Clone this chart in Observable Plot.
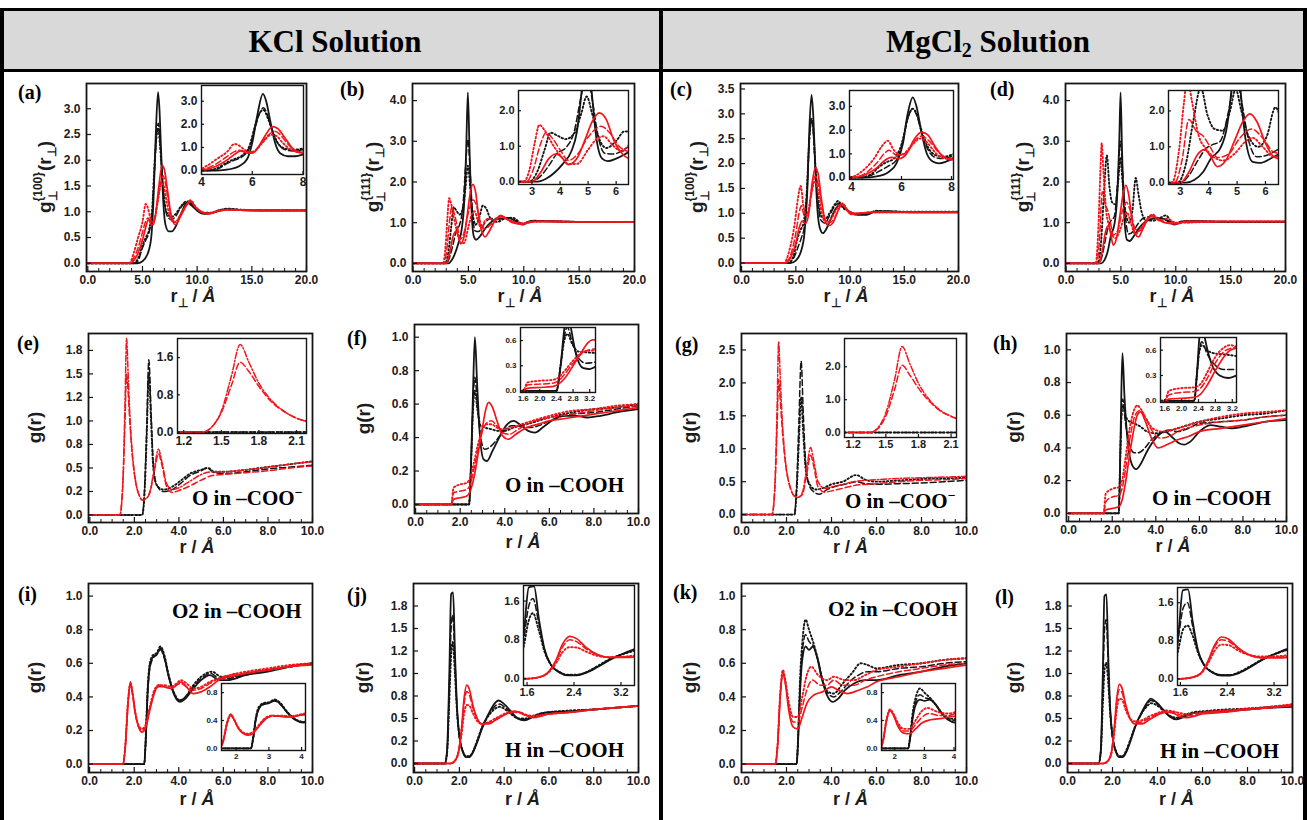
<!DOCTYPE html>
<html><head><meta charset="utf-8">
<script src="https://cdn.jsdelivr.net/npm/d3@7"></script>
<script src="https://cdn.jsdelivr.net/npm/@observablehq/plot@0.6"></script>
<style>
html,body{margin:0;padding:0;background:#fff}
#fig{position:relative;width:1307px;height:820px;overflow:hidden;background:#fff}
</style></head><body><div id="fig"></div>
<script>
// ---------------- DATA ----------------
const headers = ["KCl Solution", "MgCl", "2", " Solution"];
const letters = ["(a)","(b)","(c)","(d)","(e)","(f)","(g)","(h)","(i)","(j)","(k)","(l)"];
const notes = {e:"O in –COO", f:"O in –COOH", g:"O in –COO", h:"O in –COOH", i:"O2 in –COOH", j:"H in –COOH", k:"O2 in –COOH", l:"H in –COOH"};

const x20Ticks = [0,5,10,15,20];
const x20Labels = ["0.0","5.0","10.0","15.0","20.0"];
const x20Minor = [1,2,3,4,6,7,8,9,11,12,13,14,16,17,18,19];
const x10Ticks = [0,2,4,6,8,10];
const x10Labels = ["0.0","2.0","4.0","6.0","8.0","10.0"];
const x10Minor = [0.5,1,1.5,2.5,3,3.5,4.5,5,5.5,6.5,7,7.5,8.5,9,9.5];
const yTicksA = [0,0.5,1,1.5,2,2.5,3];
const yLabelsA = ["0.0","0.5","1.0","1.5","2.0","2.5","3.0"];
const yTicksB = [0,1,2,3,4];
const yLabelsB = ["0.0","1.0","2.0","3.0","4.0"];
const yTicksC = [0,0.5,1,1.5,2,2.5,3,3.5];
const yLabelsC = ["0.0","0.5","1.0","1.5","2.0","2.5","3.0","3.5"];
const yTicksE = [0,0.25,0.5,0.75,1,1.25,1.5,1.75];
const yLabelsE = ["0.0","0.2","0.5","0.8","1.0","1.2","1.5","1.8"];
const yTicksF = [0,0.2,0.4,0.6,0.8,1.0];
const yLabelsF = ["0.0","0.2","0.4","0.6","0.8","1.0"];
const yTicksG = [0,0.5,1,1.5,2,2.5];
const yLabelsG = ["0.0","0.5","1.0","1.5","2.0","2.5"];
// inset ticks
const insX48 = [4,6,8], insX48L = ["4","6","8"];
const insY3 = [0,1,2,3], insY3L = ["0.0","1.0","2.0","3.0"];
const insX36 = [3,4,5,6], insX36L = ["3","4","5","6"];
const insY2 = [0,1,2], insY2L = ["0.0","1.0","2.0"];
const insXe = [1.2,1.5,1.8,2.1], insXeL = ["1.2","1.5","1.8","2.1"];
const insYe = [0,0.8,1.6], insYeL = ["0.0","0.8","1.6"];
const insXf = [1.6,2.0,2.4,2.8,3.2], insXfL = ["1.6","2.0","2.4","2.8","3.2"];
const insYf = [0,0.3,0.6], insYfL = ["0.0","0.3","0.6"];
const insXi = [2,3,4], insXiL = ["2","3","4"];
const insYi = [0,0.4,0.8], insYiL = ["0.0","0.4","0.8"];
const insXj = [1.6,2.4,3.2], insXjL = ["1.6","2.4","3.2"];

// (a) KCl {100}
const a_k1 = [[0,0],[4.5,0],[5.0,0.04],[5.5,0.2],[5.8,0.5],[6.0,1.2],[6.2,2.4],[6.42,3.32],[6.55,3.0],[6.7,2.2],[6.9,1.2],[7.1,0.75],[7.4,0.62],[7.7,0.62],[8.0,0.7],[8.5,0.95],[9.1,1.18],[9.5,1.12],[10.0,1.02],[10.6,0.96],[11.2,0.97],[12.0,1.02],[12.8,1.05],[14,1.03],[16,1.02],[20,1.02]];
const a_k2 = [[0,0],[4.3,0],[4.6,0.05],[5.0,0.3],[5.3,0.45],[5.6,0.6],[5.9,1.0],[6.1,1.8],[6.3,2.5],[6.45,2.72],[6.6,2.4],[6.8,1.7],[7.0,1.2],[7.3,0.9],[7.6,0.85],[8.0,0.9],[8.5,1.08],[9.0,1.18],[9.5,1.15],[10.0,1.05],[10.6,0.98],[11.2,0.97],[12.0,1.02],[12.8,1.05],[14,1.03],[16,1.03],[20,1.03]];
const a_k3 = [[0,0],[4.2,0],[4.6,0.1],[5.0,0.35],[5.3,0.5],[5.6,0.65],[5.9,1.1],[6.1,1.9],[6.3,2.5],[6.45,2.62],[6.6,2.3],[6.8,1.7],[7.0,1.2],[7.3,0.95],[7.6,0.9],[8.0,0.95],[8.5,1.1],[9.0,1.2],[9.5,1.17],[10.0,1.06],[10.6,0.98],[11.2,0.98],[12.0,1.03],[12.8,1.06],[14,1.04],[16,1.03],[20,1.03]];
const a_r1 = [[0,0],[3.9,0],[4.2,0.05],[4.6,0.2],[5.0,0.45],[5.3,0.7],[5.55,0.85],[5.8,0.75],[6.0,0.75],[6.2,0.95],[6.5,1.5],[6.8,1.9],[7.0,1.82],[7.3,1.4],[7.6,0.95],[8.0,0.75],[8.5,0.92],[9.0,1.12],[9.35,1.22],[9.8,1.1],[10.3,1.0],[11,0.96],[11.8,1.0],[12.8,1.04],[14,1.03],[16,1.02],[20,1.02]];
const a_r2 = [[0,0],[3.8,0],[4.2,0.1],[4.6,0.3],[5.0,0.6],[5.3,0.82],[5.5,0.88],[5.8,0.8],[6.0,0.8],[6.3,1.1],[6.6,1.5],[6.9,1.7],[7.1,1.55],[7.4,1.15],[7.7,0.88],[8.0,0.8],[8.5,0.95],[9.0,1.12],[9.4,1.2],[9.9,1.08],[10.4,1.0],[11,0.97],[12,1.02],[13,1.04],[16,1.03],[20,1.03]];
const a_r3 = [[0,0],[3.8,0],[4.2,0.2],[4.6,0.5],[5.0,0.8],[5.3,1.15],[5.45,1.1],[5.7,0.9],[5.9,0.8],[6.1,0.85],[6.4,1.2],[6.75,1.55],[6.95,1.5],[7.2,1.2],[7.5,0.92],[7.8,0.8],[8.0,0.8],[8.5,0.95],[9.0,1.12],[9.4,1.22],[9.9,1.08],[10.4,1.0],[11,0.97],[12,1.02],[13,1.04],[16,1.03],[20,1.03]];
// (b) KCl {111}
const b_k1 = [[0,0],[3.2,0],[3.5,0.08],[3.8,0.25],[4.1,0.5],[4.4,0.85],[4.6,1.4],[4.8,2.8],[4.95,4.2],[5.1,2.8],[5.3,1.2],[5.5,0.65],[5.7,0.58],[6.0,0.65],[6.5,0.85],[7.0,1.0],[7.5,1.08],[8.0,1.1],[8.6,1.12],[9.2,1.05],[9.9,0.95],[10.4,1.02],[11,1.05],[12,1.03],[15,1.02],[20,1.02]];
const b_k2 = [[0,0],[3.0,0],[3.3,0.15],[3.6,0.45],[3.9,0.8],[4.2,0.95],[4.5,1.4],[4.75,2.4],[4.95,3.05],[5.15,2.3],[5.35,1.3],[5.6,0.8],[5.9,0.78],[6.5,1.0],[7.0,1.1],[7.6,1.1],[8.3,1.12],[9.0,1.08],[9.9,0.96],[10.5,1.03],[11.5,1.04],[15,1.02],[20,1.02]];
const b_k3 = [[0,0],[2.9,0],[3.2,0.3],[3.45,0.9],[3.67,1.38],[3.9,1.3],[4.2,1.2],[4.5,1.35],[4.75,1.9],[4.95,2.4],[5.15,1.9],[5.4,1.2],[5.65,0.95],[6.0,1.15],[6.3,1.42],[6.6,1.35],[7.0,1.1],[7.6,1.02],[8.3,1.1],[9.0,1.12],[9.9,0.97],[10.5,1.03],[11.5,1.04],[15,1.02],[20,1.02]];
const b_r1 = [[0,0],[3.0,0],[3.3,0.25],[3.6,0.65],[3.85,0.78],[4.05,0.7],[4.3,0.48],[4.6,0.65],[4.9,1.2],[5.15,1.7],[5.4,1.94],[5.65,1.75],[5.9,1.2],[6.2,0.8],[6.5,0.65],[6.8,0.75],[7.2,0.95],[7.6,1.12],[7.9,1.18],[8.4,1.1],[9.0,1.0],[9.9,0.96],[10.5,1.02],[12,1.03],[15,1.02],[20,1.02]];
const b_r2 = [[0,0],[2.8,0],[3.05,0.35],[3.3,1.05],[3.5,1.38],[3.75,1.2],[4.0,0.9],[4.3,0.6],[4.6,0.75],[5.0,1.25],[5.45,1.56],[5.8,1.35],[6.1,1.0],[6.5,0.85],[7.0,0.95],[7.6,1.12],[8.0,1.15],[8.6,1.08],[9.3,1.0],[10,0.98],[11,1.03],[15,1.02],[20,1.02]];
const b_r3 = [[0,0],[2.7,0],[2.9,0.3],[3.1,1.1],[3.26,1.6],[3.45,1.45],[3.7,1.1],[4.0,0.75],[4.3,0.5],[4.6,0.5],[5.0,0.9],[5.3,1.2],[5.55,1.28],[5.85,1.05],[6.2,0.85],[6.5,1.05],[6.9,1.1],[7.4,1.05],[7.9,1.15],[8.5,1.08],[9.3,1.0],[10,0.98],[11,1.03],[15,1.02],[20,1.02]];
// (c) MgCl2 {100}
const c_k1 = [[0,0],[4.5,0],[5.0,0.05],[5.5,0.25],[5.8,0.6],[6.05,1.4],[6.25,2.7],[6.45,3.38],[6.6,3.0],[6.8,1.9],[7.0,1.05],[7.25,0.68],[7.5,0.6],[7.8,0.68],[8.2,0.88],[8.7,1.1],[9.1,1.18],[9.6,1.1],[10.1,1.0],[10.8,0.97],[11.5,0.97],[12.4,1.04],[13.5,1.04],[16,1.02],[20,1.02]];
const c_k2 = [[0,0],[4.3,0],[4.8,0.1],[5.2,0.32],[5.5,0.5],[5.8,0.75],[6.05,1.5],[6.25,2.5],[6.45,2.9],[6.6,2.65],[6.8,1.9],[7.05,1.2],[7.35,0.85],[7.7,0.8],[8.1,0.95],[8.6,1.15],[9.0,1.2],[9.5,1.1],[10,1.02],[10.8,0.98],[11.5,0.98],[12.4,1.04],[13.5,1.04],[16,1.02],[20,1.02]];
const c_k3 = [[0,0],[4.3,0],[4.8,0.15],[5.1,0.45],[5.4,0.65],[5.7,0.8],[6.0,1.4],[6.25,2.5],[6.45,2.9],[6.6,2.7],[6.8,2.0],[7.05,1.3],[7.35,0.95],[7.7,0.88],[8.1,1.0],[8.6,1.18],[8.9,1.25],[9.3,1.12],[9.8,1.05],[10.8,0.98],[11.5,0.98],[12.4,1.05],[13.5,1.04],[16,1.03],[20,1.03]];
const c_r1 = [[0,0],[4.0,0],[4.5,0.1],[5.0,0.4],[5.3,0.7],[5.6,0.85],[5.9,0.8],[6.2,1.0],[6.5,1.6],[6.8,1.92],[7.05,1.8],[7.35,1.3],[7.65,0.9],[8.0,0.75],[8.4,0.8],[8.8,1.0],[9.2,1.18],[9.6,1.1],[10.1,0.98],[11,1.0],[12,1.02],[16,1.02],[20,1.02]];
const c_r2 = [[0,0],[4.0,0],[4.5,0.15],[5.0,0.6],[5.3,1.0],[5.5,1.15],[5.8,0.95],[6.2,1.05],[6.5,1.5],[6.8,1.75],[7.1,1.55],[7.5,1.05],[7.9,0.8],[8.4,0.85],[8.9,1.05],[9.3,1.2],[9.8,1.05],[10.5,1.0],[12,1.02],[16,1.02],[20,1.02]];
const c_r3 = [[0,0],[3.9,0],[4.4,0.25],[4.9,0.8],[5.2,1.3],[5.45,1.55],[5.7,1.15],[6.0,0.95],[6.4,1.35],[6.75,1.65],[7.0,1.5],[7.4,1.0],[7.8,0.8],[8.3,0.9],[8.8,1.1],[9.3,1.2],[9.8,1.05],[10.5,1.0],[12,1.02],[16,1.02],[20,1.02]];
// (d) MgCl2 {111}
const d_k1 = [[0,0],[3.2,0],[3.5,0.08],[3.8,0.3],[4.1,0.7],[4.4,0.95],[4.65,1.6],[4.85,3.0],[4.97,4.2],[5.1,2.8],[5.3,1.2],[5.55,0.58],[5.8,0.55],[6.2,0.68],[6.6,0.85],[7.2,1.02],[8,1.1],[8.8,1.1],[9.5,1.0],[9.9,0.95],[10.5,1.03],[12,1.03],[15,1.02],[20,1.02]];
const d_k2 = [[0,0],[3.0,0],[3.3,0.2],[3.6,0.6],[3.9,0.95],[4.1,1.05],[4.4,1.15],[4.7,2.0],[4.95,3.0],[5.15,2.3],[5.4,1.2],[5.7,0.72],[6.1,0.78],[6.5,0.95],[7.1,1.12],[7.8,1.15],[8.6,1.1],[9.3,1.05],[10,0.97],[11,1.04],[15,1.02],[20,1.02]];
const d_k3 = [[0,0],[2.9,0],[3.2,0.55],[3.45,1.7],[3.72,2.65],[3.95,1.9],[4.2,1.5],[4.5,1.45],[4.75,2.0],[4.95,2.6],[5.15,2.0],[5.4,1.3],[5.75,1.0],[6.05,1.3],[6.35,2.1],[6.6,1.7],[6.9,1.25],[7.3,1.05],[8,1.05],[8.6,1.12],[9.1,1.18],[9.6,1.02],[10,0.97],[11,1.04],[15,1.02],[20,1.02]];
const d_r1 = [[0,0],[3.0,0],[3.3,0.3],[3.6,0.78],[3.85,0.92],[4.05,0.75],[4.3,0.45],[4.6,0.62],[4.9,1.15],[5.2,1.7],[5.45,1.92],[5.7,1.7],[6.0,1.1],[6.3,0.72],[6.6,0.65],[7.0,0.85],[7.5,1.1],[7.8,1.18],[8.3,1.1],[9.0,1.0],[10,0.97],[11,1.03],[15,1.03],[20,1.03]];
const d_r2 = [[0,0],[2.8,0],[3.05,0.6],[3.3,1.76],[3.55,1.45],[3.8,1.3],[4.05,1.0],[4.3,0.7],[4.7,0.8],[5.1,1.25],[5.5,1.5],[5.9,1.25],[6.3,0.85],[6.7,0.8],[7.2,1.0],[7.8,1.15],[8.4,1.1],[9.2,1.0],[10,1.0],[15,1.03],[20,1.03]];
const d_r3 = [[0,0],[2.7,0],[2.95,0.9],[3.12,2.2],[3.25,2.95],[3.4,2.3],[3.65,1.3],[3.9,0.95],[4.2,0.7],[4.5,0.62],[4.9,0.8],[5.3,1.15],[5.55,1.25],[5.9,1.0],[6.3,0.72],[6.8,0.85],[7.4,1.1],[7.9,1.2],[8.5,1.05],[9.2,1.1],[10,1.0],[15,1.03],[20,1.03]];
// (e) KCl, O in -COO-
const e_kDash = [[0,0],[2.35,0],[2.45,0.25],[2.55,0.9],[2.65,1.65],[2.75,1.1],[2.85,0.55],[3.0,0.32],[3.3,0.25],[3.7,0.27],[4.0,0.32],[4.5,0.42],[5.0,0.47],[5.25,0.5],[5.6,0.45],[6.0,0.44],[7,0.46],[8,0.49],[9,0.51],[10,0.53]];
const e_kDot = [[0,0],[2.35,0],[2.45,0.2],[2.55,0.8],[2.65,1.5],[2.75,1.0],[2.85,0.5],[3.0,0.32],[3.3,0.27],[3.7,0.3],[4.0,0.35],[4.5,0.44],[5.0,0.48],[5.3,0.5],[5.6,0.46],[6.0,0.46],[7,0.48],[8,0.51],[9,0.54],[10,0.57]];
const e_rDashDot = [[0,0],[1.35,0],[1.42,0.1],[1.5,0.45],[1.58,1.2],[1.65,1.88],[1.72,1.5],[1.8,1.05],[1.9,0.68],[2.0,0.45],[2.1,0.3],[2.2,0.22],[2.35,0.16],[2.5,0.17],[2.7,0.25],[2.9,0.5],[3.08,0.7],[3.25,0.55],[3.45,0.33],[3.7,0.27],[4.0,0.29],[4.5,0.36],[5.0,0.43],[5.5,0.46],[6,0.46],[7,0.48],[8,0.51],[9,0.54],[10,0.57]];
const e_rDash = [[0,0],[1.35,0],[1.42,0.1],[1.5,0.42],[1.58,1.0],[1.65,1.5],[1.72,1.3],[1.8,0.98],[1.9,0.65],[2.0,0.44],[2.1,0.3],[2.2,0.22],[2.35,0.16],[2.5,0.17],[2.7,0.24],[2.9,0.47],[3.08,0.65],[3.25,0.52],[3.45,0.3],[3.7,0.24],[4.0,0.26],[4.5,0.31],[5.0,0.37],[5.5,0.42],[6,0.43],[7,0.45],[8,0.47],[9,0.5],[10,0.52]];
// (f) KCl, O in -COOH
const f_k1 = [[0,0],[2.4,0],[2.5,0.3],[2.58,0.7],[2.66,1.0],[2.76,0.72],[2.88,0.42],[3.05,0.27],[3.2,0.26],[3.45,0.32],[3.75,0.4],[4.05,0.47],[4.4,0.5],[4.75,0.47],[5.05,0.44],[5.35,0.43],[5.7,0.46],[6.1,0.5],[6.6,0.53],[7.2,0.53],[7.7,0.52],[8.3,0.53],[9,0.55],[10,0.57]];
const f_k2 = [[0,0],[2.4,0],[2.5,0.3],[2.58,0.62],[2.66,0.76],[2.78,0.58],[2.92,0.4],[3.1,0.33],[3.3,0.34],[3.6,0.38],[3.9,0.43],[4.3,0.47],[4.7,0.47],[5.1,0.46],[5.5,0.47],[6,0.5],[7,0.54],[8,0.55],[9,0.57],[10,0.59]];
const f_k3 = [[0,0],[2.4,0],[2.5,0.3],[2.58,0.58],[2.66,0.68],[2.78,0.56],[2.92,0.47],[3.1,0.46],[3.4,0.45],[3.7,0.44],[4.0,0.44],[4.4,0.46],[5,0.48],[6,0.52],[7,0.55],[8,0.57],[9,0.58],[10,0.6]];
const f_r1 = [[0,0],[1.6,0],[1.7,0.03],[2.0,0.04],[2.3,0.05],[2.45,0.08],[2.6,0.15],[2.8,0.3],[3.0,0.46],[3.15,0.57],[3.28,0.61],[3.45,0.58],[3.65,0.5],[3.9,0.41],[4.15,0.39],[4.5,0.42],[5.0,0.46],[5.5,0.48],[6,0.5],[6.5,0.51],[7,0.52],[8,0.54],[9,0.56],[10,0.58]];
const f_r2 = [[0,0],[1.6,0],[1.7,0.07],[2.0,0.08],[2.3,0.09],[2.45,0.12],[2.6,0.2],[2.8,0.33],[3.0,0.44],[3.2,0.49],[3.4,0.5],[3.65,0.47],[3.9,0.43],[4.2,0.42],[4.6,0.45],[5,0.48],[6,0.52],[7,0.54],[8,0.56],[9,0.58],[10,0.59]];
const f_r3 = [[0,0],[1.6,0],[1.7,0.1],[2.0,0.12],[2.3,0.13],[2.45,0.16],[2.6,0.24],[2.8,0.36],[3.0,0.45],[3.2,0.48],[3.4,0.48],[3.65,0.46],[3.9,0.45],[4.3,0.46],[5,0.49],[6,0.53],[7,0.56],[8,0.57],[9,0.59],[10,0.6]];
// (g) MgCl2, O in -COO-
const g_kDash = [[0,0],[2.35,0],[2.45,0.45],[2.55,1.4],[2.65,2.33],[2.75,1.5],[2.85,0.8],[3.0,0.45],[3.2,0.35],[3.45,0.31],[3.8,0.38],[4.2,0.43],[4.6,0.46],[5.1,0.5],[5.5,0.47],[6,0.46],[7,0.47],[8,0.48],[9,0.5],[10,0.52]];
const g_kDot = [[0,0],[2.35,0],[2.45,0.35],[2.55,1.1],[2.65,1.78],[2.75,1.2],[2.85,0.7],[3.0,0.48],[3.3,0.38],[3.6,0.4],[4.0,0.46],[4.5,0.5],[5.1,0.6],[5.5,0.53],[6,0.5],[7,0.52],[8,0.54],[9,0.55],[10,0.56]];
const g_rDashDot = [[0,0],[1.35,0],[1.42,0.12],[1.5,0.6],[1.58,1.6],[1.65,2.62],[1.72,2.1],[1.8,1.5],[1.9,1.0],[2.0,0.68],[2.1,0.5],[2.2,0.38],[2.35,0.28],[2.5,0.26],[2.7,0.33],[2.9,0.7],[3.07,1.02],[3.22,0.8],[3.4,0.5],[3.7,0.4],[4.0,0.42],[4.5,0.46],[5,0.5],[6,0.53],[7,0.55],[8,0.56],[9,0.57],[10,0.58]];
const g_rDash = [[0,0],[1.35,0],[1.42,0.1],[1.5,0.5],[1.58,1.3],[1.65,2.05],[1.72,1.75],[1.8,1.35],[1.9,0.95],[2.0,0.66],[2.1,0.49],[2.2,0.37],[2.35,0.28],[2.5,0.26],[2.7,0.3],[2.9,0.62],[3.07,0.9],[3.22,0.72],[3.4,0.42],[3.7,0.34],[4.0,0.36],[4.5,0.4],[5,0.44],[6,0.47],[7,0.5],[8,0.52],[9,0.53],[10,0.55]];
// (h) MgCl2, O in -COOH
const h_k1 = [[0,0],[2.3,0],[2.36,0.3],[2.42,0.75],[2.47,0.98],[2.56,0.72],[2.7,0.45],[2.9,0.3],[3.1,0.27],[3.3,0.3],[3.6,0.38],[4.0,0.46],[4.4,0.5],[4.8,0.46],[5.05,0.43],[5.3,0.42],[5.6,0.44],[6,0.5],[6.5,0.54],[7,0.53],[7.5,0.52],[8,0.53],[9,0.56],[10,0.57]];
const h_k2 = [[0,0],[2.3,0],[2.36,0.3],[2.42,0.6],[2.48,0.7],[2.6,0.56],[2.8,0.42],[3.0,0.37],[3.2,0.37],[3.5,0.4],[3.8,0.45],[4.2,0.49],[4.6,0.51],[5,0.5],[5.5,0.52],[6,0.55],[7,0.56],[8,0.57],[9,0.59],[10,0.6]];
const h_k3 = [[0,0],[2.3,0],[2.36,0.3],[2.42,0.58],[2.48,0.66],[2.6,0.6],[2.8,0.56],[3.0,0.55],[3.3,0.53],[3.6,0.5],[4,0.49],[4.5,0.5],[5,0.52],[6,0.56],[7,0.58],[8,0.6],[9,0.61],[10,0.63]];
const h_r1 = [[0,0],[1.6,0],[1.7,0.02],[2.0,0.03],[2.3,0.04],[2.45,0.08],[2.6,0.18],[2.8,0.36],[3.0,0.52],[3.15,0.6],[3.3,0.62],[3.5,0.57],[3.8,0.46],[4.1,0.4],[4.5,0.42],[5,0.45],[5.5,0.47],[6,0.5],[7,0.52],[8,0.54],[9,0.56],[10,0.58]];
const h_r2 = [[0,0],[1.6,0],[1.7,0.07],[2.0,0.1],[2.3,0.11],[2.45,0.15],[2.6,0.26],[2.8,0.45],[3.0,0.58],[3.15,0.62],[3.3,0.63],[3.55,0.58],[3.85,0.5],[4.2,0.46],[4.6,0.47],[5,0.5],[6,0.54],[7,0.56],[8,0.57],[9,0.59],[10,0.6]];
const h_r3 = [[0,0],[1.6,0],[1.7,0.12],[2.0,0.15],[2.3,0.16],[2.45,0.2],[2.6,0.33],[2.8,0.52],[3.0,0.63],[3.15,0.66],[3.3,0.64],[3.55,0.58],[3.85,0.52],[4.3,0.5],[5,0.52],[6,0.56],[7,0.59],[8,0.61],[9,0.62],[10,0.63]];
// (i) KCl, O2 in -COOH
const i_k1 = [[0,0],[2.45,0],[2.52,0.15],[2.6,0.42],[2.7,0.58],[2.85,0.64],[3.0,0.65],[3.18,0.69],[3.35,0.64],[3.55,0.52],[3.8,0.41],[4.05,0.37],[4.3,0.39],[4.6,0.44],[5.0,0.5],[5.4,0.53],[5.8,0.5],[6.2,0.5],[7,0.53],[8,0.55],[9,0.58],[10,0.6]];
const i_k2 = [[0,0],[2.45,0],[2.52,0.14],[2.6,0.4],[2.7,0.57],[2.85,0.63],[3.0,0.65],[3.18,0.68],[3.35,0.63],[3.55,0.52],[3.8,0.42],[4.05,0.38],[4.3,0.4],[4.6,0.45],[5.0,0.51],[5.45,0.54],[5.8,0.51],[6.2,0.51],[7,0.53],[8,0.56],[9,0.58],[10,0.6]];
const i_k3 = [[0,0],[2.45,0],[2.52,0.16],[2.6,0.44],[2.7,0.6],[2.85,0.65],[3.0,0.66],[3.18,0.7],[3.35,0.65],[3.55,0.53],[3.8,0.42],[4.05,0.38],[4.3,0.4],[4.6,0.46],[5.0,0.52],[5.5,0.55],[5.9,0.52],[6.3,0.52],[7,0.54],[8,0.56],[9,0.58],[10,0.6]];
const i_r1 = [[0,0],[1.5,0],[1.6,0.1],[1.72,0.36],[1.83,0.49],[1.93,0.42],[2.05,0.3],[2.2,0.22],[2.35,0.19],[2.5,0.21],[2.7,0.32],[2.9,0.42],[3.1,0.47],[3.35,0.46],[3.65,0.45],[3.9,0.47],[4.1,0.49],[4.35,0.46],[4.65,0.42],[5.0,0.43],[5.4,0.46],[5.8,0.5],[6.3,0.52],[7,0.54],[8,0.56],[9,0.58],[10,0.59]];
const i_r2 = [[0,0],[1.5,0],[1.6,0.1],[1.72,0.35],[1.83,0.47],[1.93,0.41],[2.05,0.3],[2.2,0.22],[2.35,0.2],[2.5,0.22],[2.7,0.33],[2.9,0.43],[3.1,0.46],[3.35,0.46],[3.65,0.45],[3.9,0.47],[4.1,0.48],[4.35,0.46],[4.65,0.44],[5.0,0.45],[5.4,0.48],[5.8,0.51],[6.3,0.53],[7,0.54],[8,0.56],[9,0.58],[10,0.6]];
const i_r3 = [[0,0],[1.5,0],[1.6,0.11],[1.72,0.37],[1.83,0.48],[1.93,0.42],[2.05,0.31],[2.2,0.23],[2.35,0.21],[2.5,0.23],[2.7,0.34],[2.9,0.44],[3.1,0.47],[3.35,0.47],[3.65,0.46],[3.9,0.48],[4.1,0.5],[4.35,0.48],[4.65,0.45],[5.0,0.46],[5.4,0.49],[5.8,0.51],[6.3,0.53],[7,0.55],[8,0.57],[9,0.59],[10,0.6]];
// (j) KCl, H in -COOH
const j_k1 = [[0,0],[1.35,0],[1.45,0.15],[1.55,1.0],[1.63,1.88],[1.72,1.9],[1.8,1.25],[1.9,0.6],[2.0,0.3],[2.15,0.13],[2.3,0.07],[2.45,0.07],[2.6,0.12],[2.8,0.24],[3.0,0.38],[3.3,0.55],[3.55,0.66],[3.75,0.7],[4.0,0.66],[4.3,0.58],[4.6,0.5],[4.9,0.48],[5.3,0.52],[5.7,0.56],[6.0,0.57],[7,0.58],[8,0.6],[9,0.62],[10,0.64]];
const j_k2 = [[0,0],[1.35,0],[1.45,0.13],[1.55,0.85],[1.63,1.5],[1.7,1.65],[1.8,1.15],[1.9,0.58],[2.0,0.3],[2.15,0.14],[2.3,0.08],[2.45,0.08],[2.6,0.13],[2.8,0.25],[3.0,0.39],[3.3,0.54],[3.6,0.64],[3.8,0.66],[4.05,0.62],[4.35,0.55],[4.65,0.5],[4.95,0.49],[5.3,0.52],[5.7,0.55],[6,0.56],[7,0.58],[8,0.6],[9,0.62],[10,0.64]];
const j_k3 = [[0,0],[1.35,0],[1.45,0.12],[1.55,0.7],[1.63,1.2],[1.7,1.35],[1.8,1.0],[1.9,0.55],[2.0,0.3],[2.15,0.14],[2.3,0.08],[2.45,0.08],[2.6,0.13],[2.8,0.26],[3.0,0.4],[3.3,0.53],[3.6,0.61],[3.8,0.63],[4.05,0.6],[4.35,0.54],[4.65,0.5],[4.95,0.5],[5.3,0.53],[5.7,0.56],[6,0.57],[7,0.59],[8,0.6],[9,0.62],[10,0.64]];
const j_r1 = [[0,0],[1.6,0],[1.8,0.03],[1.95,0.12],[2.1,0.4],[2.2,0.7],[2.33,0.87],[2.45,0.82],[2.6,0.65],[2.8,0.5],[3.0,0.44],[3.3,0.44],[3.6,0.48],[4.0,0.54],[4.4,0.58],[4.7,0.57],[5.0,0.53],[5.3,0.51],[5.7,0.53],[6,0.55],[7,0.57],[8,0.6],[9,0.62],[10,0.64]];
const j_r2 = [[0,0],[1.6,0],[1.8,0.03],[1.95,0.12],[2.1,0.38],[2.2,0.64],[2.33,0.8],[2.45,0.76],[2.6,0.62],[2.8,0.49],[3.0,0.44],[3.3,0.45],[3.6,0.49],[4.0,0.54],[4.4,0.57],[4.7,0.56],[5.0,0.53],[5.3,0.52],[5.7,0.54],[6,0.55],[7,0.57],[8,0.6],[9,0.62],[10,0.64]];
const j_r3 = [[0,0],[1.6,0],[1.8,0.03],[1.95,0.11],[2.1,0.33],[2.2,0.54],[2.33,0.65],[2.45,0.64],[2.6,0.56],[2.8,0.47],[3.0,0.44],[3.3,0.46],[3.6,0.5],[4.0,0.55],[4.4,0.58],[4.7,0.57],[5.0,0.54],[5.3,0.53],[5.7,0.54],[6,0.55],[7,0.57],[8,0.6],[9,0.62],[10,0.64]];
// (k) MgCl2, O2 in -COOH
const k_k1 = [[0,0],[2.45,0],[2.52,0.15],[2.6,0.42],[2.7,0.62],[2.85,0.7],[3.0,0.68],[3.18,0.7],[3.35,0.64],[3.55,0.52],[3.8,0.41],[4.05,0.37],[4.3,0.39],[4.6,0.44],[5.0,0.48],[5.5,0.5],[6,0.5],[7,0.53],[8,0.55],[9,0.58],[10,0.6]];
const k_k2 = [[0,0],[2.45,0],[2.52,0.16],[2.6,0.45],[2.7,0.66],[2.85,0.77],[3.0,0.73],[3.2,0.7],[3.4,0.62],[3.6,0.5],[3.85,0.42],[4.1,0.4],[4.4,0.43],[4.8,0.49],[5.2,0.53],[5.6,0.55],[6,0.55],[7,0.57],[8,0.58],[9,0.6],[10,0.61]];
const k_k3 = [[0,0],[2.45,0],[2.52,0.18],[2.6,0.5],[2.7,0.72],[2.85,0.86],[3.0,0.8],[3.2,0.72],[3.4,0.62],[3.6,0.5],[3.85,0.43],[4.1,0.42],[4.5,0.48],[4.9,0.54],[5.3,0.6],[5.6,0.59],[6,0.57],[7,0.59],[8,0.6],[9,0.62],[10,0.63]];
const k_r1 = [[0,0],[1.5,0],[1.6,0.1],[1.72,0.4],[1.84,0.55],[1.95,0.48],[2.1,0.32],[2.3,0.22],[2.5,0.21],[2.7,0.28],[2.9,0.36],[3.2,0.41],[3.6,0.43],[4.0,0.46],[4.3,0.44],[4.7,0.42],[5.2,0.44],[5.6,0.46],[6,0.49],[7,0.52],[8,0.55],[9,0.57],[10,0.59]];
const k_r2 = [[0,0],[1.5,0],[1.6,0.1],[1.72,0.4],[1.84,0.54],[1.95,0.48],[2.1,0.34],[2.3,0.25],[2.5,0.25],[2.7,0.34],[2.9,0.44],[3.15,0.5],[3.5,0.47],[3.8,0.47],[4.1,0.5],[4.5,0.47],[5,0.47],[5.5,0.5],[6,0.52],[7,0.55],[8,0.57],[9,0.59],[10,0.6]];
const k_r3 = [[0,0],[1.5,0],[1.6,0.11],[1.72,0.42],[1.84,0.56],[1.95,0.5],[2.1,0.37],[2.3,0.28],[2.5,0.28],[2.7,0.4],[2.9,0.53],[3.1,0.58],[3.4,0.53],[3.8,0.5],[4.1,0.52],[4.6,0.5],[5,0.5],[5.5,0.53],[6,0.56],[7,0.58],[8,0.6],[9,0.62],[10,0.63]];
// (l) MgCl2, H in -COOH
const l_k1 = [[0,0],[1.38,0],[1.48,0.15],[1.57,1.0],[1.64,1.86],[1.73,1.88],[1.81,1.2],[1.9,0.6],[2.0,0.3],[2.15,0.13],[2.3,0.07],[2.45,0.07],[2.6,0.12],[2.8,0.25],[3.0,0.4],[3.3,0.57],[3.55,0.68],[3.7,0.72],[3.95,0.68],[4.25,0.6],[4.55,0.52],[4.85,0.49],[5.2,0.52],[5.6,0.56],[6,0.57],[7,0.58],[8,0.6],[9,0.62],[10,0.63]];
const l_k2 = [[0,0],[1.38,0],[1.48,0.14],[1.57,0.9],[1.65,1.5],[1.72,1.6],[1.81,1.1],[1.9,0.58],[2.0,0.3],[2.15,0.14],[2.3,0.08],[2.45,0.08],[2.6,0.13],[2.8,0.26],[3.0,0.4],[3.3,0.56],[3.55,0.66],[3.7,0.7],[3.95,0.67],[4.25,0.6],[4.55,0.53],[4.85,0.5],[5.2,0.53],[5.6,0.56],[6,0.57],[7,0.59],[8,0.6],[9,0.62],[10,0.64]];
const l_k3 = [[0,0],[1.38,0],[1.48,0.12],[1.57,0.65],[1.65,1.05],[1.72,1.12],[1.81,0.9],[1.9,0.55],[2.0,0.3],[2.15,0.14],[2.3,0.08],[2.45,0.08],[2.6,0.14],[2.8,0.27],[3.0,0.41],[3.3,0.56],[3.55,0.64],[3.7,0.67],[3.95,0.65],[4.25,0.59],[4.55,0.53],[4.85,0.51],[5.2,0.54],[5.6,0.57],[6,0.58],[7,0.6],[8,0.61],[9,0.63],[10,0.65]];
const l_r1 = [[0,0],[1.6,0],[1.8,0.03],[1.95,0.12],[2.08,0.4],[2.18,0.7],[2.3,0.88],[2.42,0.84],[2.58,0.66],[2.78,0.5],[2.98,0.44],[3.3,0.44],[3.6,0.48],[4.0,0.54],[4.4,0.57],[4.7,0.56],[5.0,0.52],[5.3,0.51],[5.7,0.53],[6,0.55],[7,0.57],[8,0.6],[9,0.62],[10,0.64]];
const l_r2 = [[0,0],[1.6,0],[1.8,0.03],[1.95,0.12],[2.08,0.38],[2.18,0.66],[2.3,0.82],[2.42,0.79],[2.58,0.64],[2.78,0.5],[2.98,0.45],[3.3,0.46],[3.6,0.5],[4.0,0.55],[4.4,0.58],[4.7,0.57],[5.0,0.54],[5.3,0.53],[5.7,0.54],[6,0.56],[7,0.58],[8,0.6],[9,0.62],[10,0.65]];
const l_r3 = [[0,0],[1.6,0],[1.8,0.03],[1.95,0.11],[2.08,0.34],[2.18,0.58],[2.3,0.72],[2.42,0.71],[2.58,0.6],[2.78,0.5],[2.98,0.47],[3.3,0.48],[3.6,0.52],[4.0,0.56],[4.4,0.59],[4.7,0.58],[5.0,0.56],[5.3,0.55],[5.7,0.56],[6,0.57],[7,0.59],[8,0.61],[9,0.63],[10,0.66]];

// ---------------- STYLES & LAYOUT ----------------
const SANS = "'Liberation Sans', Arial, Helvetica, sans-serif";
const SERIF = "'Liberation Serif', 'Times New Roman', Times, serif";
const RED = "#f2151b", INK = "#151515";
const LS = {
  k1:{stroke:INK, strokeWidth:1.8},
  k2:{stroke:INK, strokeWidth:1.5, strokeDasharray:"6,3"},
  k3:{stroke:INK, strokeWidth:1.9, strokeDasharray:"1.4,2.4"},
  r1:{stroke:RED, strokeWidth:1.7},
  r2:{stroke:RED, strokeWidth:1.5, strokeDasharray:"6,3"},
  r3:{stroke:RED, strokeWidth:1.9, strokeDasharray:"1.4,2.4"},
  r4:{stroke:RED, strokeWidth:1.5, strokeDasharray:"6,2,1.5,2"}
};
const six = (a,b,c,d,e,f) => [["k1",a],["k2",b],["k3",c],["r1",d],["r2",e],["r3",f]];

const panels = [
 {id:"a", box:[86,83,306,271], xd:[-0.12,20], yd:[-0.16,3.49], xt:x20Ticks, xl:x20Labels, xm:x20Minor, yt:yTicksA, yl:yLabelsA,
  curves:six(a_k1,a_k2,a_k3,a_r1,a_r2,a_r3), letter:[18,99], yLab:[42,"100"], xLab:[302,true],
  inset:{box:[201,85,303,174], xd:[4,8.02], yd:[-0.17,3.68], xt:insX48, xl:insX48L, yt:insY3, yl:insY3L, font:12}},
 {id:"b", box:[412,83,634,271], xd:[-0.05,20], yd:[-0.2,4.42], xt:x20Ticks, xl:x20Labels, xm:x20Minor, yt:yTicksB, yl:yLabelsB,
  curves:six(b_k1,b_k2,b_k3,b_r1,b_r2,b_r3), letter:[340,96], yLab:[370,"111"], xLab:[302,true],
  inset:{box:[518,90,628,184], xd:[2.52,6.44], yd:[-0.08,2.57], xt:insX36, xl:insX36L, yt:insY2, yl:insY2L, font:11}},
 {id:"c", box:[740,83,958,271], xd:[-0.1,20], yd:[-0.17,3.61], xt:x20Ticks, xl:x20Labels, xm:x20Minor, yt:yTicksC, yl:yLabelsC,
  curves:six(c_k1,c_k2,c_k3,c_r1,c_r2,c_r3), letter:[670,96], yLab:[694,"100"], xLab:[302,true],
  inset:{box:[849,90,953,179], xd:[3.92,8.08], yd:[-0.08,3.67], xt:insX48, xl:insX48L, yt:insY3, yl:insY3L, font:12}},
 {id:"d", box:[1065,83,1285,271], xd:[-0.05,20], yd:[-0.2,4.42], xt:x20Ticks, xl:x20Labels, xm:x20Minor, yt:yTicksB, yl:yLabelsB,
  curves:six(d_k1,d_k2,d_k3,d_r1,d_r2,d_r3), letter:[990,96], yLab:[1020,"111"], xLab:[302,true],
  inset:{box:[1168,90,1278,184], xd:[2.58,6.46], yd:[-0.05,2.57], xt:insX36, xl:insX36L, yt:insY2, yl:insY2L, font:11}},
 {id:"e", box:[88,333,312,522], xd:[-0.06,10], yd:[-0.08,1.93], xt:x10Ticks, xl:x10Labels, xm:x10Minor, yt:yTicksE, yl:yLabelsE,
  curves:[["k2",e_kDash],["k3",e_kDot],["r2",e_rDash],["r4",e_rDashDot]], letter:[17,350], yLab:[38,null], xLab:[553,false],
  note:[192,505,true],
  inset:{box:[177,338,306,433], xd:[1.15,2.18], yd:[-0.03,2.01], xt:insXe, xl:insXeL, yt:insYe, yl:insYeL, font:12}},
 {id:"f", box:[414,324,638,513], xd:[-0.05,10], yd:[-0.054,1.076], xt:x10Ticks, xl:x10Labels, xm:x10Minor, yt:yTicksF, yl:yLabelsF,
  curves:six(f_k1,f_k2,f_k3,f_r1,f_r2,f_r3), letter:[347,345], yLab:[367,null], xLab:[548,false],
  note:[505,492,false],
  inset:{box:[520,327,595,392], xd:[1.535,3.34], yd:[-0.02,0.756], xt:insXf, xl:insXfL, yt:insYf, yl:insYfL, font:8}},
 {id:"g", box:[741,333,966,522], xd:[0,10], yd:[-0.12,2.75], xt:x10Ticks, xl:x10Labels, xm:x10Minor, yt:yTicksG, yl:yLabelsG,
  curves:[["k2",g_kDash],["k3",g_kDot],["r2",g_rDash],["r4",g_rDashDot]], letter:[675,351], yLab:[693,null], xLab:[553,false],
  note:[845,508,true],
  inset:{box:[844,338,956,437], xd:[1.12,2.15], yd:[-0.15,2.86], xt:insXe, xl:insXeL, yt:insY2, yl:insY2L, font:11}},
 {id:"h", box:[1066,333,1286,521], xd:[-0.1,10], yd:[-0.05,1.1], xt:x10Ticks, xl:x10Labels, xm:x10Minor, yt:yTicksF, yl:yLabelsF,
  curves:six(h_k1,h_k2,h_k3,h_r1,h_r2,h_r3), letter:[993,350], yLab:[1017,null], xLab:[552,false],
  note:[1152,505,false],
  inset:{box:[1160,337,1236,402], xd:[1.5,3.3], yd:[-0.02,0.75], xt:insXf, xl:insXfL, yt:insYf, yl:insYfL, font:8}},
 {id:"i", box:[88,583,312,772], xd:[-0.05,10], yd:[-0.05,1.075], xt:x10Ticks, xl:x10Labels, xm:x10Minor, yt:yTicksF, yl:yLabelsF,
  curves:six(i_k1,i_k2,i_k3,i_r1,i_r2,i_r3), letter:[18,601], yLab:[38,null], xLab:[805,false],
  note:[172,618,false],
  inset:{box:[221,683,305,750], xd:[1.55,4.12], yd:[-0.03,0.93], xt:insXi, xl:insXiL, yt:insYi, yl:insYiL, font:8}},
 {id:"j", box:[413,583,638,772], xd:[-0.05,10], yd:[-0.1,2.0], xt:x10Ticks, xl:x10Labels, xm:x10Minor, yt:yTicksE, yl:yLabelsE,
  curves:six(j_k1,j_k2,j_k3,j_r1,j_r2,j_r3), letter:[347,602], yLab:[366,null], xLab:[805,false],
  note:[505,757,false],
  inset:{box:[523,585,634,685], xd:[1.54,3.43], yd:[-0.14,1.92], xt:insXj, xl:insXjL, yt:insYe, yl:insYeL, font:11}},
 {id:"k", box:[741,583,966,772], xd:[0,10], yd:[-0.05,1.075], xt:x10Ticks, xl:x10Labels, xm:x10Minor, yt:yTicksF, yl:yLabelsF,
  curves:six(k_k1,k_k2,k_k3,k_r1,k_r2,k_r3), letter:[673,599], yLab:[693,null], xLab:[805,false],
  note:[828,616,false],
  inset:{box:[881,683,955,750], xd:[1.55,4.05], yd:[-0.03,0.93], xt:insXi, xl:insXiL, yt:insYi, yl:insYiL, font:8}},
 {id:"l", box:[1067,583,1292,772], xd:[0,10], yd:[-0.1,2.0], xt:x10Ticks, xl:x10Labels, xm:x10Minor, yt:yTicksE, yl:yLabelsE,
  curves:six(l_k1,l_k2,l_k3,l_r1,l_r2,l_r3), letter:[995,604], yLab:[1017,null], xLab:[805,false],
  note:[1160,758,false],
  inset:{box:[1177,587,1287,685], xd:[1.55,3.43], yd:[-0.14,1.92], xt:insXj, xl:insXjL, yt:insYe, yl:insYeL, font:11}}
];

const fig = document.getElementById("fig");

function drawAxes(cfg, isInset) {
  const [l,t,r,b] = cfg.box;
  const W = r - l, H = b - t;
  const mL = isInset ? 30 : 44, mR = 4, mT = 4, mB = isInset ? 16 : 24;
  const tick = isInset ? 3 : 5;
  const xf = new Map(cfg.xt.map((v,i) => [v, cfg.xl[i]]));
  const yf = new Map(cfg.yt.map((v,i) => [v, cfg.yl[i]]));
  const marks = [];
  if (isInset) marks.push(Plot.frame({fill:"white", stroke:null}));
  for (const [s, data] of cfg.curves) {
    marks.push(Plot.line(data, {x: d => d[0], y: d => d[1], curve:"monotone-x", clip:true, strokeLinejoin:"round", ...LS[s]}));
  }
  marks.push(Plot.tickX(cfg.xt, {insetTop: H - tick, stroke: INK, strokeWidth: 1.2}));
  if (cfg.xm) marks.push(Plot.tickX(cfg.xm, {insetTop: H - tick*0.6, stroke: INK, strokeWidth: 1}));
  marks.push(Plot.tickY(cfg.yt, {insetRight: W - tick, stroke: INK, strokeWidth: 1.2}));
  marks.push(Plot.frame({stroke: INK, strokeWidth: isInset ? 1.4 : 1.8}));
  const svg = Plot.plot({
    width: W + mL + mR, height: H + mT + mB,
    marginLeft: mL, marginRight: mR, marginTop: mT, marginBottom: mB,
    x: {domain: cfg.xd, ticks: cfg.xt, tickFormat: v => xf.get(v), tickSize: 0, tickPadding: isInset ? 3 : 4, label: null},
    y: {domain: cfg.yd, ticks: cfg.yt, tickFormat: v => yf.get(v), tickSize: 0, tickPadding: isInset ? 4 : 6, label: null},
    style: {fontFamily: SANS, fontWeight: "bold", fontSize: (isInset ? cfg.font : 12) + "px", background: "transparent", color: "#1c1c1c", overflow: "visible"},
    marks
  });
  svg.style.position = "absolute";
  svg.style.left = (l - mL) + "px";
  svg.style.top = (t - mT) + "px";
  svg.style.maxWidth = "none";
  fig.appendChild(svg);
}

for (const p of panels) drawAxes(p, false);
for (const p of panels) drawAxes(Object.assign({curves: p.curves}, p.inset), true);

// ---------------- overlay: frame, header, labels ----------------
const ov = d3.select(fig).append("svg")
  .attr("width", 1307).attr("height", 820)
  .style("position", "absolute").style("left", "0px").style("top", "0px");

ov.append("rect").attr("x", 3).attr("y", 10).attr("width", 1301).attr("height", 60).attr("fill", "#d9d9d9");
ov.append("rect").attr("x", 0).attr("y", 8).attr("width", 1307).attr("height", 3).attr("fill", "#000");
ov.append("rect").attr("x", 0).attr("y", 69).attr("width", 1307).attr("height", 3).attr("fill", "#000");
ov.append("rect").attr("x", 0).attr("y", 8).attr("width", 4).attr("height", 812).attr("fill", "#000");
ov.append("rect").attr("x", 659).attr("y", 8).attr("width", 4).attr("height", 812).attr("fill", "#000");
ov.append("rect").attr("x", 1303).attr("y", 8).attr("width", 4).attr("height", 812).attr("fill", "#000");

const hdr = ov.append("g").attr("font-family", SERIF).attr("font-weight", "bold").attr("font-size", 31).attr("fill", "#000").attr("text-anchor", "middle");
hdr.append("text").attr("x", 335).attr("y", 52).text(headers[0]);
const h2 = hdr.append("text").attr("x", 988).attr("y", 52);
h2.append("tspan").text(headers[1]);
h2.append("tspan").attr("font-size", 20).attr("dy", 5).text(headers[2]);
h2.append("tspan").attr("dy", -5).text(headers[3]);

function measure(str, size) {
  const t = ov.append("text").attr("font-family", SANS).attr("font-weight", "bold").attr("font-size", size).text(str);
  const w = t.node().getComputedTextLength();
  t.remove();
  return w;
}
const wSup = measure("{100}", 12), wPerp = measure("⊥", 12);

panels.forEach((p, idx) => {
  const [l,t,r,b] = p.box;
  ov.append("text").attr("x", p.letter[0]).attr("y", p.letter[1]).attr("font-family", SERIF).attr("font-weight", "bold")
    .attr("font-size", 20).attr("fill", "#000").text(letters[idx]);
  const cy = (t + b) / 2;
  const [yx, hkl] = p.yLab;
  if (hkl) {
    const tx = ov.append("text").attr("transform", `translate(${yx + 9},${cy}) rotate(-90)`).attr("text-anchor", "middle")
      .attr("font-family", SANS).attr("font-weight", "bold").attr("font-size", 19).attr("fill", "#1c1c1c");
    tx.append("tspan").text("g");
    tx.append("tspan").attr("font-size", 12).attr("dy", -9).text("{" + hkl + "}");
    tx.append("tspan").attr("font-size", 12).attr("dx", -wSup).attr("dy", 15).text("⊥");
    tx.append("tspan").attr("dx", wSup - wPerp + 1).attr("dy", -6).text("(r");
    tx.append("tspan").attr("font-size", 12).attr("dy", 5).text("⊥");
    tx.append("tspan").attr("dy", -5).text(")");
  } else {
    ov.append("text").attr("transform", `translate(${yx + 3},${cy}) rotate(-90)`).attr("text-anchor", "middle")
      .attr("font-family", SANS).attr("font-weight", "bold").attr("font-size", 19).attr("fill", "#1c1c1c").text("g(r)");
  }
  const [xy, perp] = p.xLab;
  const xt = ov.append("text").attr("x", (l + r) / 2 - 3).attr("y", xy).attr("text-anchor", "middle")
    .attr("font-family", SANS).attr("font-weight", "bold").attr("font-size", 18).attr("fill", "#1c1c1c");
  xt.append("tspan").text("r");
  if (perp) {
    xt.append("tspan").attr("font-size", 12).attr("dy", 5).text("⊥");
    xt.append("tspan").attr("dy", -5).text("  / ");
  } else {
    xt.append("tspan").text(" / ");
  }
  xt.append("tspan").attr("font-style", "italic").text("Å");
  if (p.note) {
    const nt = ov.append("text").attr("x", p.note[0]).attr("y", p.note[1]).attr("font-family", SERIF)
      .attr("font-weight", "bold").attr("font-size", 21).attr("fill", "#000");
    nt.append("tspan").text(notes[p.id]);
    if (p.note[2]) nt.append("tspan").attr("font-size", 14).attr("dy", -8).text("−");
  }
});
</script>
</body></html>
